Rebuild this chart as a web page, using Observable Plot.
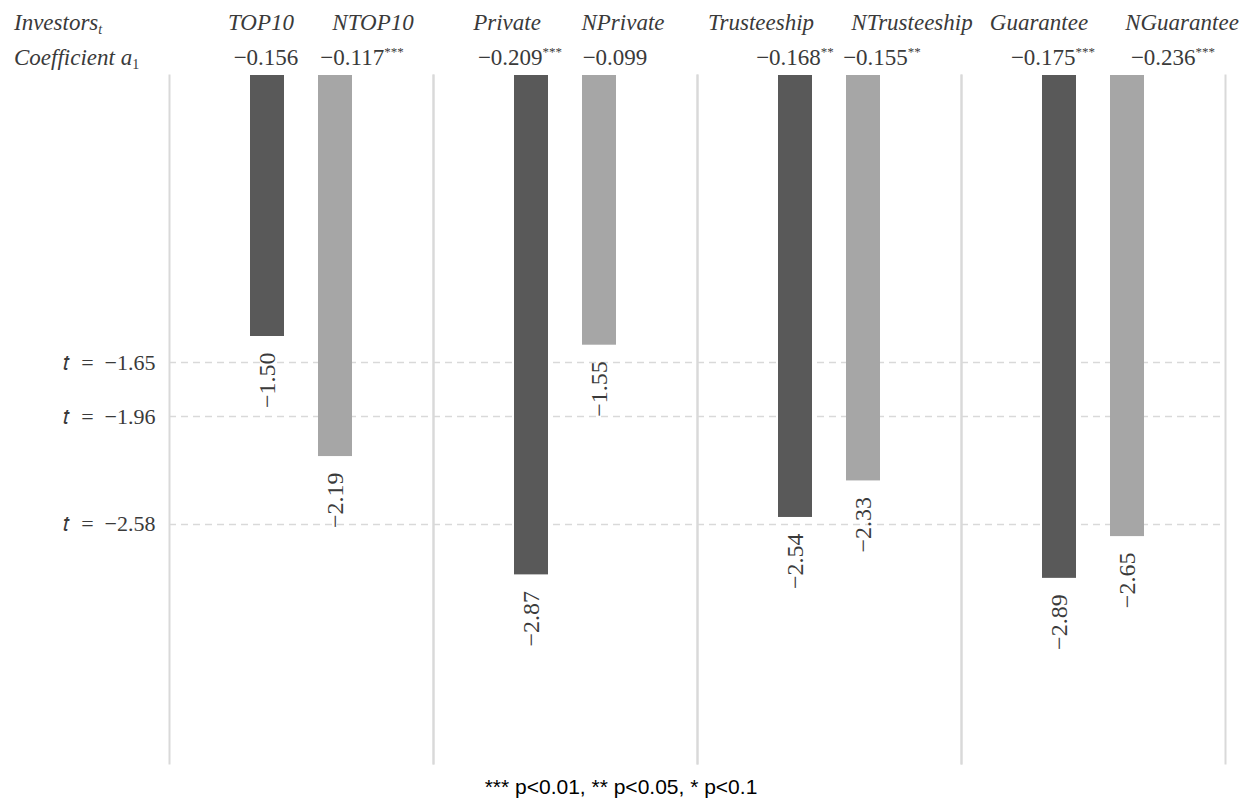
<!DOCTYPE html>
<html>
<head>
<meta charset="utf-8">
<script src="https://cdn.jsdelivr.net/npm/d3@7"></script>
<script src="https://cdn.jsdelivr.net/npm/@observablehq/plot@0.6"></script>
<style>
  body { margin: 0; background: #fff; }
  #wrap { position: relative; width: 1242px; height: 801px; overflow: hidden; }
  #chart { position: absolute; left: 0; top: 0; }
  .hd { position: absolute; font-family: "Liberation Serif", serif; font-size: 23px; color: #3a3a3a; white-space: nowrap; line-height: 1; font-variant-ligatures: none; }
  .hd i { font-style: italic; }
  .hd sup { font-size: 13px; vertical-align: 9px; line-height: 0; }
  .hd sub { font-size: 14px; vertical-align: -4px; line-height: 0; }
  #foot { position: absolute; left: 0; width: 1242px; top: 776px; text-align: center; font-family: "Liberation Sans", Arial, sans-serif; font-size: 21px; line-height: 1; color: #000; }
</style>
</head>
<body>
<div id="wrap">
  <div id="chart"></div>
  <div id="foot"></div>
</div>
<script>
// ---- data ----
const groupNames = ["TOP10", "Private", "Trusteeship", "Guarantee"];
const seriesNames = ["TOP10", "NTOP10", "Private", "NPrivate", "Trusteeship", "NTrusteeship", "Guarantee", "NGuarantee"];
const seriesGroup = ["TOP10", "TOP10", "Private", "Private", "Trusteeship", "Trusteeship", "Guarantee", "Guarantee"];
const seriesKind = ["with", "without", "with", "without", "with", "without", "with", "without"];
const tStats = [-1.50, -2.19, -2.87, -1.55, -2.54, -2.33, -2.89, -2.65];
const coefficients = ["−0.156", "−0.117", "−0.209", "−0.099", "−0.168", "−0.155", "−0.175", "−0.236"];
const significance = ["", "***", "***", "", "**", "**", "***", "***"];
const criticalT = [-1.65, -1.96, -2.58];
const criticalLabels = ["𝑡\u2002=\u2002−1.65", "𝑡\u2002=\u2002−1.96", "𝑡\u2002=\u2002−2.58"];
const footnote = "*** p<0.01, ** p<0.05, * p<0.1";

// ---- header layout (style: horizontal centres of the header cells) ----
const headerNameCenter = [261, 373, 507, 623, 761, 912, 1039, 1182];
const headerCoefCenter = [266, 362, 520, 615, 795, 882, 1053, 1173];

const rows = seriesNames.map((name, i) => ({
  name, group: seriesGroup[i], kind: seriesKind[i], t: tStats[i]
}));

const fmt = d3.format(".2f");

const chart = Plot.plot({
  width: 1242,
  height: 770,
  marginLeft: 167,
  marginRight: 16,
  marginTop: 75,
  marginBottom: 7,
  style: {background: "transparent", overflow: "visible"},
  fx: {domain: groupNames, padding: 0, axis: null},
  x: {domain: ["with", "without"], paddingInner: 0.493, paddingOuter: 1.165, axis: null},
  y: {domain: [-3.954, 0], axis: null},
  color: {domain: ["with", "without"], range: ["#595959", "#a6a6a6"]},
  marks: [
    Plot.ruleY(criticalT, {stroke: "#d9d9d9", strokeWidth: 1.5, strokeDasharray: "7,5"}),
    Plot.frame({anchor: "left", stroke: "#d9d9d9", strokeWidth: 2}),
    Plot.frame({anchor: "right", stroke: "#d9d9d9", strokeWidth: 2}),
    Plot.barY(rows, {fx: "group", x: "kind", y: "t", fill: "kind"}),
    Plot.text(rows, {
      fx: "group", x: "kind", y: "t", text: d => fmt(d.t),
      rotate: -90, textAnchor: "end", lineAnchor: "middle", dy: 16,
      fontSize: 24, fontFamily: "Liberation Serif", fill: "#3a3a3a"
    }),
    Plot.text(criticalT, {
      fx: () => groupNames[0], y: d => d, text: (d, i) => criticalLabels[i],
      frameAnchor: "left", textAnchor: "end", lineAnchor: "middle", dx: -14,
      fontSize: 22, fontFamily: "Liberation Serif", fill: "#3a3a3a"
    })
  ]
});
document.getElementById("chart").appendChild(chart);

// ---- header (text above the plot) ----
const wrap = document.getElementById("wrap");
function place(html, x, top, centred) {
  const s = document.createElement("div");
  s.className = "hd";
  s.innerHTML = html;
  s.style.top = top + "px";
  s.style.left = x + "px";
  if (centred) s.style.transform = "translateX(-50%)";
  wrap.appendChild(s);
}
place("<i>Investors</i><sub><i>t</i></sub>", 14, 11, false);
place("<i>Coefficient a</i><sub>1</sub>", 14, 46, false);
seriesNames.forEach((name, i) => {
  place("<i>" + name + "</i>", headerNameCenter[i], 11, true);
  place(coefficients[i] + (significance[i] ? "<sup>" + significance[i] + "</sup>" : ""), headerCoefCenter[i], 46, true);
});
document.getElementById("foot").textContent = footnote;
</script>
</body>
</html>
